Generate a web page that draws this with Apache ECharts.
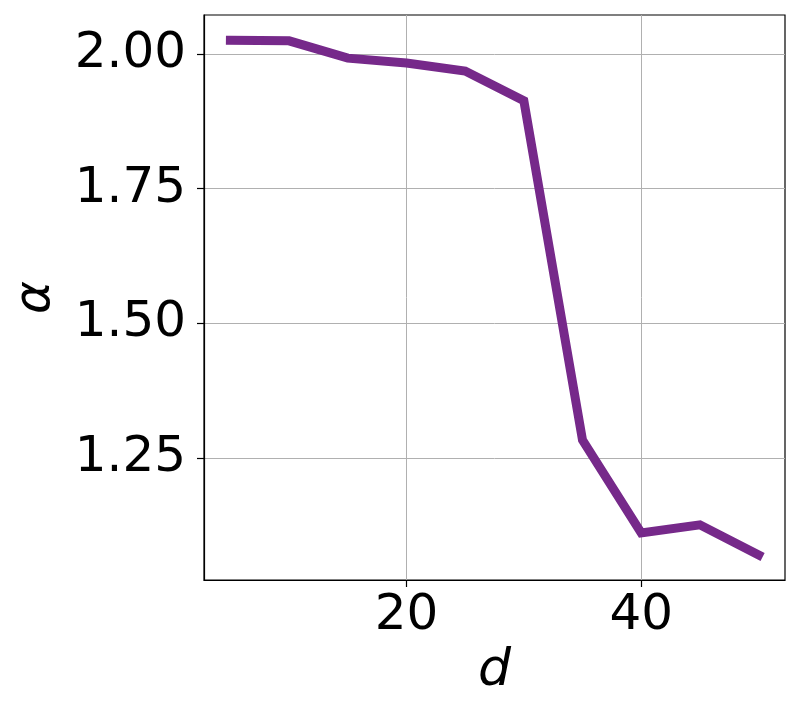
<!DOCTYPE html>
<html>
<head>
<meta charset="utf-8">
<script src="https://cdn.jsdelivr.net/npm/echarts@6/dist/echarts.min.js"></script>
<style>
  html, body { margin: 0; padding: 0; background: #fff; }
  #main { width: 800px; height: 719px; }
</style>
</head>
<body>
<div id="main"></div>
<script>
// values
var dValues = [5, 10, 15, 20, 25, 30, 35, 40, 45, 50];
var alphaValues = [2.025, 2.024, 1.992, 1.983, 1.968, 1.913, 1.283, 1.111, 1.126, 1.070];
var xTicks = [20, 40];
var yTicks = [1.25, 1.50, 1.75, 2.00];

var myChart = echarts.init(document.getElementById('main'));

var points = [];
for (var i = 0; i < dValues.length; i++) {
    points.push([dValues[i], alphaValues[i]]);
}

var font = 'DejaVu Sans';

var option = {
    animation: false,
    grid: {
        left: 204, right: 15, top: 15, bottom: 139,
        show: true, borderColor: '#000', borderWidth: 1.2,
        outerBoundsMode: 'none',
        containLabel: false
    },
    xAxis: {
        type: 'value',
        min: 2.75, max: 52.25,
        name: 'd',
        nameLocation: 'middle',
        nameGap: 60,
        nameTextStyle: { fontFamily: font, fontSize: 52, fontStyle: 'italic', color: '#000' },
        axisLine: { show: true, lineStyle: { color: '#000', width: 1.2 } },
        axisTick: { show: true, length: 7, lineStyle: { color: '#000', width: 1.2 }, customValues: xTicks },
        axisLabel: { fontFamily: font, fontSize: 50, color: '#000', margin: 11, customValues: xTicks },
        splitLine: { show: true, lineStyle: { color: '#b0b0b0', width: 1 } }
    },
    yAxis: {
        type: 'value',
        min: 1.0236, max: 2.072,
        name: 'α',
        nameLocation: 'middle',
        nameGap: 143,
        nameRotate: 90,
        nameTextStyle: { fontFamily: font, fontSize: 50, fontStyle: 'italic', color: '#000' },
        axisLine: { show: true, lineStyle: { color: '#000', width: 1.2 } },
        axisTick: { show: true, length: 7, lineStyle: { color: '#000', width: 1.2 }, customValues: yTicks },
        axisLabel: {
            fontFamily: font, fontSize: 50, color: '#000', margin: 18, customValues: yTicks,
            formatter: function (v) { return v.toFixed(2); }
        },
        splitLine: { show: true, lineStyle: { color: '#b0b0b0', width: 1 } }
    },
    series: [{
        type: 'line',
        data: points,
        showSymbol: false,
        lineStyle: { color: '#76298a', width: 9, cap: 'square', join: 'miter' }
    }]
};
myChart.setOption(option);
</script>
</body>
</html>
